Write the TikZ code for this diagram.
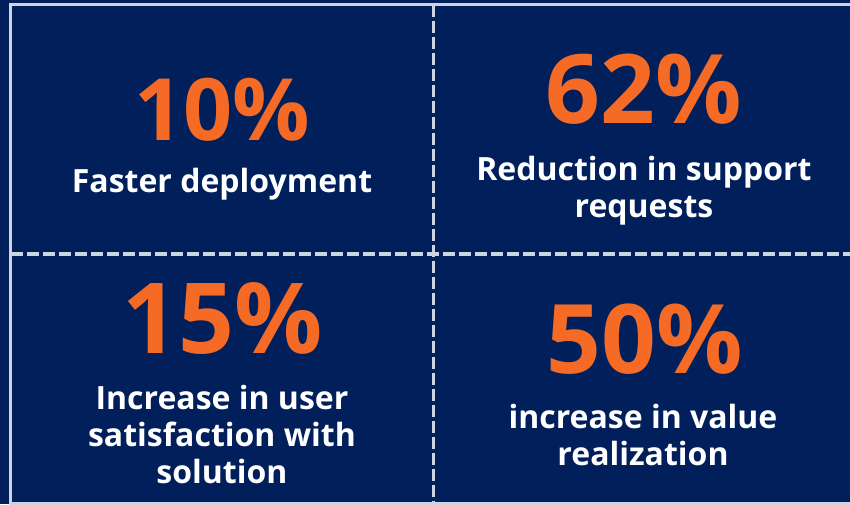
\documentclass[tikz,border=0pt]{standalone}
\usepackage{fontspec}
\setmainfont{Open Sans}
\usepackage{tikz}
\usetikzlibrary{positioning, calc}
\definecolor{navybg}{RGB}{0,31,91}
\definecolor{statorange}{RGB}{245,107,38}
\definecolor{rulegrey}{RGB}{208,212,225}

\tikzset{
  statnum/.style={font=\bfseries\fontsize{#1}{#1}\selectfont, text=statorange, anchor=base, inner sep=0pt},
  statlabel/.style={font=\bfseries\fontsize{32}{37}\selectfont, text=white, align=center, anchor=base, inner sep=0pt},
  divider/.style={rulegrey, line width=3.5pt, dash pattern=on 12pt off 4pt}
}

\begin{document}
\begin{tikzpicture}[x=1pt, y=-1pt] % 1 pixel = 1pt, y going down

            % Nền và khung
            \useasboundingbox (0,0) rectangle (850,504);
            \fill[navybg] (0,0) rectangle (850,504); % nền xanh
            \draw[rulegrey, line width=3pt] (10.5,4.5) rectangle (870,503); % khung ngoài

            % Các đường chia nét đứt
            \coordinate (vtop) at (433.5,4.5);
            \coordinate (vbot) at (433.5,504);
            \coordinate (hleft) at (10.5,254);
            \coordinate (hright) at (850,254);
            \draw[divider] (vtop) -- (vbot); % đường dọc
            \draw[divider] (hleft) -- (hright); % đường ngang

            % Ô trên trái (base = dòng cuối)
            \node[statnum=86] (num10) at (222,140) {10\%};
            \node[statlabel] (lab10) at (222,192) {Faster deployment};

            % Ô trên phải
            \node[statnum=96] (num62) at (644,123) {62\%};
            \node[statlabel] (lab62) at (644,217) {Reduction in support\\requests};

            % Ô dưới trái
            \node[statnum=98] (num15) at (223,353) {15\%};
            \node[statlabel] (lab15) at (222,483) {Increase in user\\satisfaction with\\solution};

            % Ô dưới phải
            \node[statnum=96] (num50) at (645,373) {50\%};
            \node[statlabel] (lab50) at (643,465) {increase in value\\realization};

\end{tikzpicture}
\end{document}
